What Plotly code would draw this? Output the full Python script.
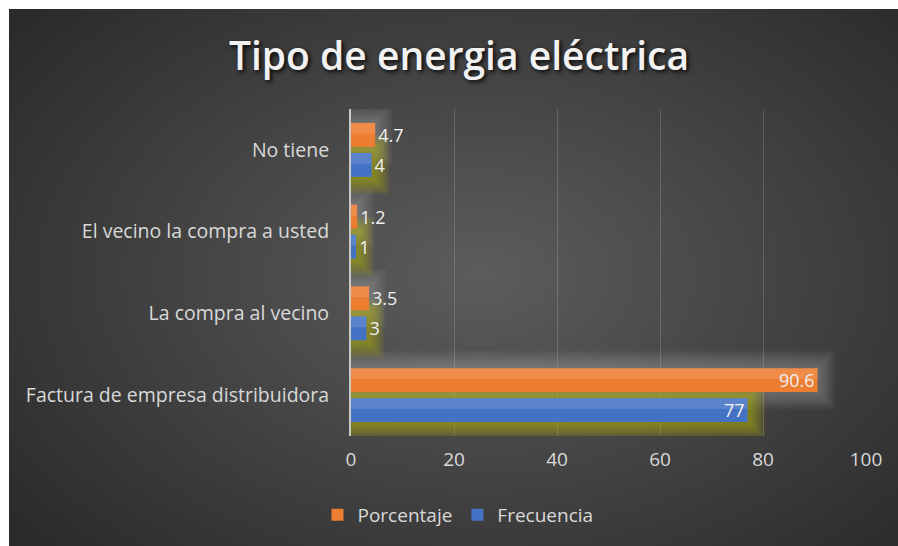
import plotly.graph_objects as go

categories = ["Factura de empresa distribuidora", "La compra al vecino",
              "El vecino la compra a usted", "No tiene"]
porcentaje = [90.6, 3.5, 1.2, 4.7]
frecuencia = [77, 3, 1, 4]
x_ticks = [0, 20, 40, 60, 80, 100]

FONT = "Open Sans"
W, H = 898, 546
PL, PR, PT, PB = 351, 866, 109, 436  # plot area pixels


def px2paper(px, py):
    return (px - PL) / (PR - PL), (PB - py) / (PB - PT)


shapes = []
x0, y0 = px2paper(9, 9)
x1, y1 = px2paper(W, H)
shapes.append(dict(type="rect", xref="paper", yref="paper", x0=x0, y0=y1, x1=x1, y1=y0,
                   fillcolor="#2a2a2a", line=dict(width=0), layer="below"))
cx, cy = 480, 275
N = 50
for i in range(N):
    k = 1.0 - i / N
    rx, ry = 600 * k, 400 * k
    a0, b0 = px2paper(cx - rx, cy - ry)
    a1, b1 = px2paper(cx + rx, cy + ry)
    shapes.append(dict(type="circle", xref="paper", yref="paper", x0=a0, y0=b1, x1=a1, y1=b0,
                       fillcolor="rgba(255,255,255,0.0064)", line=dict(width=0), layer="below"))

fig = go.Figure()

ORANGE_OFF, BLUE_OFF, BW = 0.037, -0.33, 0.293
glow_widths = list(range(36, 4, -3))

for w in glow_widths:
    fig.add_trace(go.Bar(y=categories, x=porcentaje, orientation="h", offset=ORANGE_OFF, width=BW,
                         marker=dict(color="rgba(0,0,0,0)", line=dict(color="rgba(210,210,200,0.035)", width=w)),
                         showlegend=False, hoverinfo="skip"))
for w in glow_widths:
    fig.add_trace(go.Bar(y=categories, x=frecuencia, orientation="h", offset=BLUE_OFF, width=BW,
                         marker=dict(color="rgba(0,0,0,0)", line=dict(color="rgba(180,180,20,0.07)", width=w)),
                         showlegend=False, hoverinfo="skip"))

common = dict(orientation="h", insidetextanchor="end", textangle=0,
              constraintext="none", cliponaxis=False)

fig.add_trace(go.Bar(
    y=categories, x=porcentaje, name="Porcentaje", offset=ORANGE_OFF, width=BW,
    marker=dict(color="#ED7D31", line=dict(width=0)),
    text=[f"{v:g}" for v in porcentaje],
    textposition=["inside" if v > 20 else "outside" for v in porcentaje],
    textfont=dict(family=FONT, size=18, color="#f0f0f0"), **common))
fig.add_trace(go.Bar(
    y=categories, x=frecuencia, name="Frecuencia", offset=BLUE_OFF, width=BW,
    marker=dict(color="#4472C4", line=dict(width=0)),
    text=[f"{v:g}" for v in frecuencia],
    textposition=["inside" if v > 20 else "outside" for v in frecuencia],
    textfont=dict(family=FONT, size=18, color="#f0f0f0"), **common))

fig.add_trace(go.Bar(y=categories, x=porcentaje, orientation="h", offset=ORANGE_OFF + BW * 0.55,
                     width=BW * 0.45, marker=dict(color="rgba(255,255,255,0.12)", line=dict(width=0)),
                     showlegend=False, hoverinfo="skip"))
fig.add_trace(go.Bar(y=categories, x=frecuencia, orientation="h", offset=BLUE_OFF + BW * 0.55,
                     width=BW * 0.45, marker=dict(color="rgba(255,255,255,0.12)", line=dict(width=0)),
                     showlegend=False, hoverinfo="skip"))

fig.update_layout(
    width=W, height=H,
    margin=dict(l=PL, r=W - PR, t=PT, b=H - PB),
    paper_bgcolor="white", plot_bgcolor="rgba(0,0,0,0)",
    barmode="overlay",
    shapes=shapes,
    title=dict(text="Tipo de energia eléctrica", x=459 / W, y=1 - 56 / H,
               xanchor="center", yanchor="middle", xref="container", yref="container",
               font=dict(family=FONT, size=39, color="#f2f2f2", weight=600,
                         shadow="2px 2px 4px rgba(0,0,0,0.9)")),
    xaxis=dict(range=[0, 100], tickvals=x_ticks, showgrid=True,
               gridcolor="rgba(255,255,255,0.16)", gridwidth=1, zeroline=False,
               tickfont=dict(family=FONT, size=19, color="#d9d9d9"), ticks="",
               ticklabelstandoff=10, showline=False),
    yaxis=dict(categoryorder="array", categoryarray=categories, range=[-0.5, 3.5],
               showline=True, linecolor="#c8c8c8", linewidth=2, showgrid=False, ticks="",
               tickfont=dict(family=FONT, size=19.5, color="#d9d9d9"), ticklabelstandoff=16,
               zeroline=False),
    legend=dict(orientation="h", x=(458 - PL) / (PR - PL), y=(PB - 515) / (PB - PT),
                xanchor="center", yanchor="middle", bgcolor="rgba(0,0,0,0)",
                font=dict(family=FONT, size=19, color="#d9d9d9"),
                itemwidth=30, traceorder="normal", tracegroupgap=0),
    showlegend=True,
)

fig.write_html("out.html", post_script="document.body.style.margin='0';",
               config={"displayModeBar": False})
